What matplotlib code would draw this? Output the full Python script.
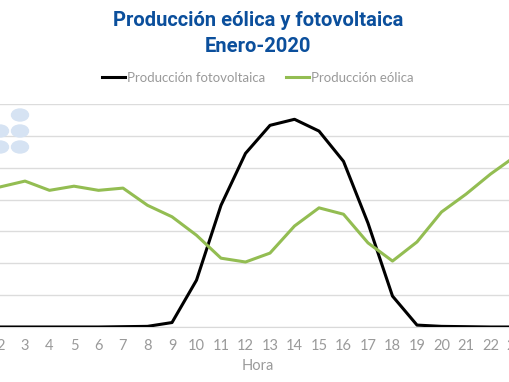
import matplotlib
matplotlib.use("Agg")
import matplotlib.pyplot as plt
from matplotlib.patches import Ellipse

# --- data (hourly, January 2020; y in gridline units) ---
horas = list(range(1, 25))
fotovoltaica = [0.0, 0.0, 0.0, 0.0, 0.0, 0.0, 0.01, 0.02, 0.14, 1.47, 3.82, 5.45,
                6.33, 6.52, 6.15, 5.20, 3.26, 0.97, 0.06, 0.02, 0.01, 0.0, 0.0, 0.0]
eolica = [4.25, 4.40, 4.58, 4.29, 4.42, 4.29, 4.36, 3.82, 3.46, 2.88, 2.16, 2.04,
          2.32, 3.17, 3.74, 3.54, 2.64, 2.07, 2.67, 3.61, 4.17, 4.80, 5.35, 5.80]

TITLE_BLUE = "#0b4f9c"
GRAY = "#9a9a9a"
GREEN = "#93bd52"
LABEL_FONT = dict(family="Lato", weight="normal")

W, H = 510, 382
fig = plt.figure(figsize=(W / 100, H / 100), dpi=100)

# axes deliberately wider than the figure (the original image is cropped)
x0, x1 = 0.5, 24.5
px_per_h = 24.5
left_px = 172 + (x0 - 9) * px_per_h
width_px = (x1 - x0) * px_per_h
ax = fig.add_axes([left_px / W, (H - 327) / H, width_px / W, (327 - 104) / H])

ax.plot(horas, fotovoltaica, color="black", lw=2.2, label="Producción fotovoltaica",
        zorder=3)
ax.plot(horas, eolica, color=GREEN, lw=2.2, label="Producción eólica", zorder=3)

ax.set_xlim(x0, x1)
ax.set_ylim(0, 7)
ax.set_yticks(range(0, 8))
ax.set_xticks(horas)
ax.tick_params(axis="x", length=0, colors=GRAY, labelsize=10.5, pad=9)
ax.tick_params(axis="y", length=0, labelleft=False)
for lbl in ax.get_xticklabels():
    lbl.set_family(LABEL_FONT["family"])
    lbl.set_weight(LABEL_FONT["weight"])
ax.grid(axis="y", color="#dcdcdc", lw=1)
ax.set_axisbelow(True)
for s in ["top", "left", "right"]:
    ax.spines[s].set_visible(False)
ax.spines["bottom"].set_color("#d9d9d9")

fig.text(258 / W, 1 - 366 / H, "Hora", color=GRAY, fontsize=10.5,
         ha="center", va="center", **LABEL_FONT)

fig.text(258 / W, 1 - 21 / H, "Producción eólica y fotovoltaica", color=TITLE_BLUE,
         fontsize=14.5, family="Roboto", fontweight="bold", ha="center", va="center")
fig.text(258 / W, 1 - 46 / H, "Enero-2020", color=TITLE_BLUE,
         fontsize=14.5, family="Roboto", fontweight="bold", ha="center", va="center")

leg = fig.legend(loc="center", bbox_to_anchor=(258 / W, 1 - 78 / H), ncol=2,
                 frameon=False, prop=dict(size=9.5, **LABEL_FONT),
                 handlelength=1.75, handletextpad=0.15, columnspacing=1.6)
for t in leg.get_texts():
    t.set_color(GRAY)

# decorative dots in the upper-left corner
for cx, cy in [(20, 115), (20, 131), (20, 147), (0, 131), (0, 147)]:
    fig.patches.append(Ellipse((cx / W, 1 - cy / H), 17 / W, 12 / H,
                               transform=fig.transFigure, color="#d6e3f3",
                               zorder=5))

fig.savefig("out.png", dpi=100)
